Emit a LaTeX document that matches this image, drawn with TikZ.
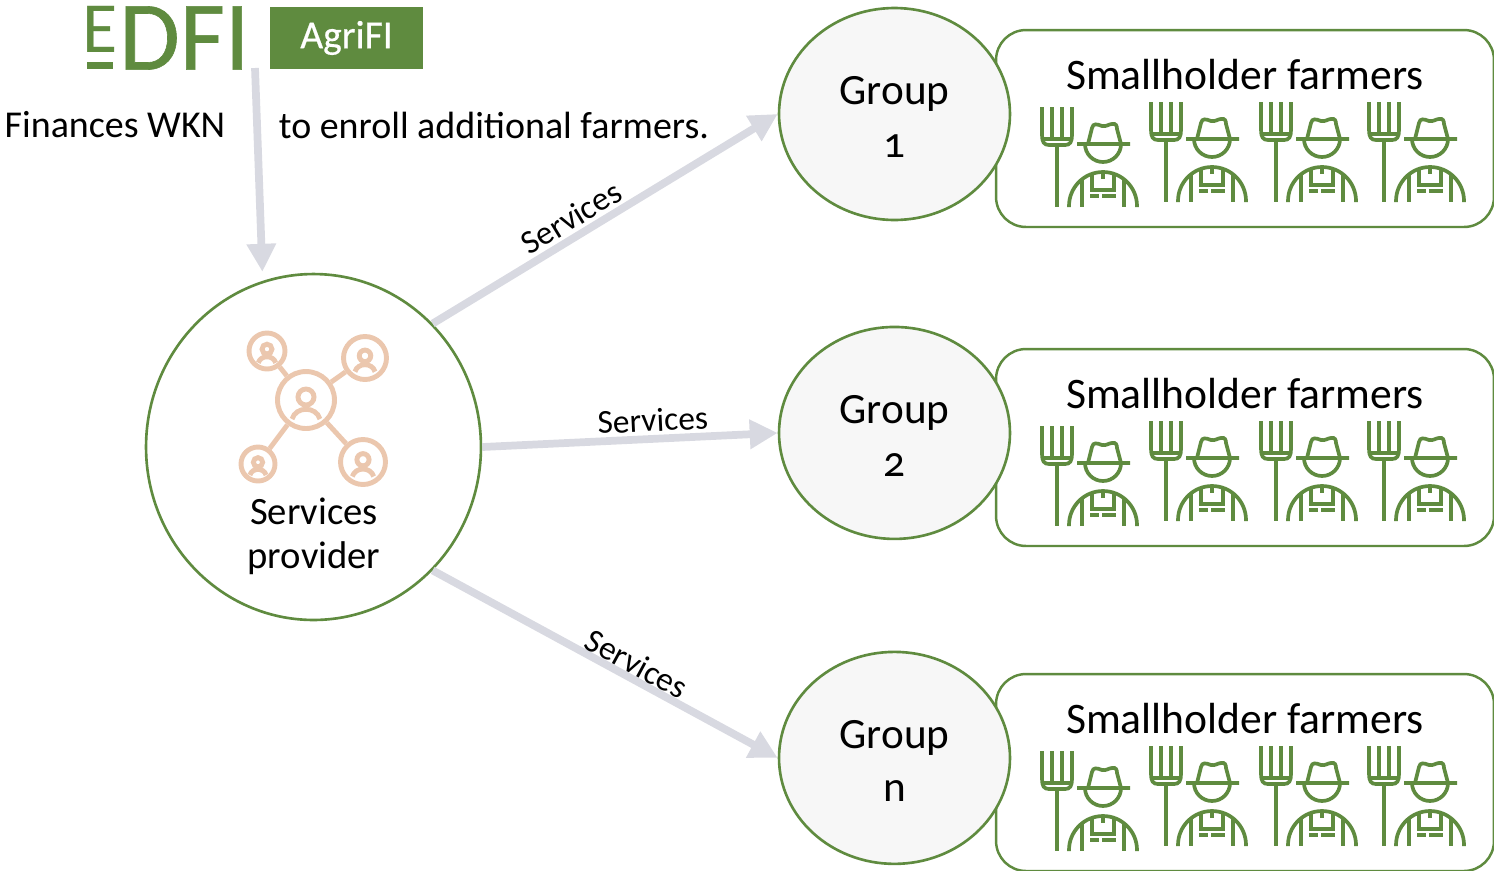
\documentclass[tikz,border=0pt]{standalone}
\usepackage{fontspec}
\setmainfont{Carlito}[Numbers=OldStyle]
\usetikzlibrary{arrows.meta,shapes.geometric}
\definecolor{leaf}{HTML}{5F8B3F}
\definecolor{peach}{HTML}{EBC7AE}
\definecolor{flow}{HTML}{D8D9E1}
\definecolor{disc}{HTML}{F7F7F7}
\tikzset{
	groupnode/.style={ellipse, draw=leaf, fill=disc, line width=1.5pt, minimum width=4.62cm, minimum height=4.24cm, inner sep=0pt, align=center, font=\fontsize{24.6}{30}\selectfont},
	farmerbox/.style={rectangle, rounded corners=0.6cm, draw=leaf, fill=white, line width=1.4pt, minimum width=9.96cm, minimum height=3.94cm},
	titletext/.style={font=\fontsize{24.8}{28}\selectfont},
	toptext/.style={inner sep=0pt, font=\fontsize{21.6}{26}\selectfont},
	logotext/.style={text=leaf, inner sep=0pt},
	flowline/.style={draw=flow, line width=4.4pt, -{Triangle[length=0.56cm,width=0.56cm]}},
	flowlabel/.style={font=\fontsize{19}{24}\selectfont, sloped, above, inner sep=2pt},
	hubnode/.style={circle, draw=peach, line width=2.8pt, inner sep=0pt},
	farmer/.pic={
		\draw[leaf, line width=2.1pt] (-15,-100) -- (-15,-72) .. controls (-15,-65) and (-13,-62) .. (-8,-62) -- (8,-62) .. controls (13,-62) and (15,-65) .. (15,-72) -- (15,-100);
		\draw[leaf, line width=2.1pt] (-5,-100) -- (-5,-68) (5,-100) -- (5,-68) (-15,-68) -- (15,-68) (0,-62) -- (0,0);
		\draw[leaf, line width=2.1pt] (20,-63) -- (73,-63) (28,-63) arc[start angle=180, end angle=0, radius=18];
		\draw[leaf, line width=2.1pt] (31,-63) -- (35,-79) .. controls (36,-84) and (40,-83) .. (45,-81) .. controls (49,-80) and (52,-83) .. (55,-83) .. controls (59,-84) and (60,-81) .. (60,-78) -- (64,-63);
		\draw[leaf, line width=2.1pt] (12,0) -- (12,-1) arc[start angle=180, end angle=360, radius=34] -- (80,0);
		\draw[leaf, line width=2.1pt] (25,-28) -- (25,0) (67,-28) -- (67,0) (35,-33) -- (35,-17) -- (57,-17) -- (57,-33) (46,-35) -- (46,-28) (33,-11) -- (42,-11) (45,-11) -- (59,-11);
	},
	person/.pic={
		\draw[peach, line width=2.8pt] (0,-3) circle (8);
		\draw[peach, line width=2.8pt] (-14,19) .. controls (-10,6) and (10,6) .. (14,19);
	}
}
\begin{document}
\begin{tikzpicture}[x=0.02cm, y=-0.02cm]
	\useasboundingbox (0,0) rectangle (1494,870);
	% logos
	\node (edfie) [logotext, font=\fontsize{41}{44}\selectfont] at (100,29.5) {E};
	\node (edfibar) [rectangle, fill=leaf, inner sep=0pt, minimum width=0.52cm, minimum height=0.14cm] at (100,65.5) {};
	\node (edfi) [logotext, font=\addfontfeature{FakeBold=0.6}\fontsize{56}{58}\selectfont] at (184.5,38) {DFI};
	\node (agrifi) [rectangle, fill=leaf, text=white, minimum width=3.06cm, minimum height=1.24cm, font=\addfontfeature{FakeBold=0.5}\fontsize{22.5}{24}\selectfont] at (346.5,38) {AgriFI};
	\node (finances) [toptext] at (115,125) {Finances WKN};
	\node (enroll) [toptext] at (494,125) {to enroll additional farmers.};

	% farmers behind their groups
	\foreach \i/\y in {1/0, 2/319, 3/644} {
		\node (box\i) [farmerbox] at (1245,128.5+\y) {};
		\node (title\i) [titletext] at (1245,75+\y) {Smallholder farmers};
		\pic at (1057,207+\y) {farmer};
		\pic at (1166,202+\y) {farmer};
		\pic at (1276,202+\y) {farmer};
		\pic at (1384,202+\y) {farmer};
	}
	\node (group1) [groupnode] at (894.5,114) {\\[-0.9ex]Group\\1};
	\node (group2) [groupnode, below of=group1, node distance=6.38cm] {\\[-0.9ex]Group\\2};
	\node (group3) [groupnode, below of=group2, node distance=6.5cm] {\\[-0.9ex]Group\\n};

	% services provider
	\node (provider) [ellipse, draw=leaf, line width=1.5pt, minimum width=6.7cm, minimum height=6.92cm, inner sep=0pt] at (313.5,447) {};
	\node (providertext) [align=center, font=\fontsize{22}{25}\selectfont] at (314,536) {Services\\provider};
	\node (hub) [hubnode, minimum size=1.14cm] at (306,400) {};
	\node (peera) [hubnode, minimum size=0.72cm] at (267,351) {};
	\node (peerb) [hubnode, minimum size=0.86cm] at (365,358) {};
	\node (peerc) [hubnode, minimum size=0.68cm] at (258,464) {};
	\node (peerd) [hubnode, minimum size=0.9cm] at (363,462) {};
	\foreach \p in {peera,peerb,peerc,peerd} \draw[peach, line width=2.8pt] (hub) -- (\p);
	\pic at (hub) {person};
	\pic[scale=0.62] at (peera) {person};
	\pic[scale=0.72] at (peerb) {person};
	\pic[scale=0.58] at (peerc) {person};
	\pic[scale=0.76] at (peerd) {person};

	% flows
	\coordinate (fund) at (255,68);
	\draw[flowline, shorten >=0.18cm] (fund) -- (provider.107);
	\draw[flowline] (provider.46) -- node[flowlabel, pos=0.43] {Services} (group1.west);
	\draw[flowline] (provider.east) -- node[flowlabel, pos=0.58] {Services} (group2.west);
	\draw[flowline] (provider.-46) -- node[flowlabel, pos=0.57, inner sep=0pt] {Services} (group3.west);
\end{tikzpicture}
\end{document}
